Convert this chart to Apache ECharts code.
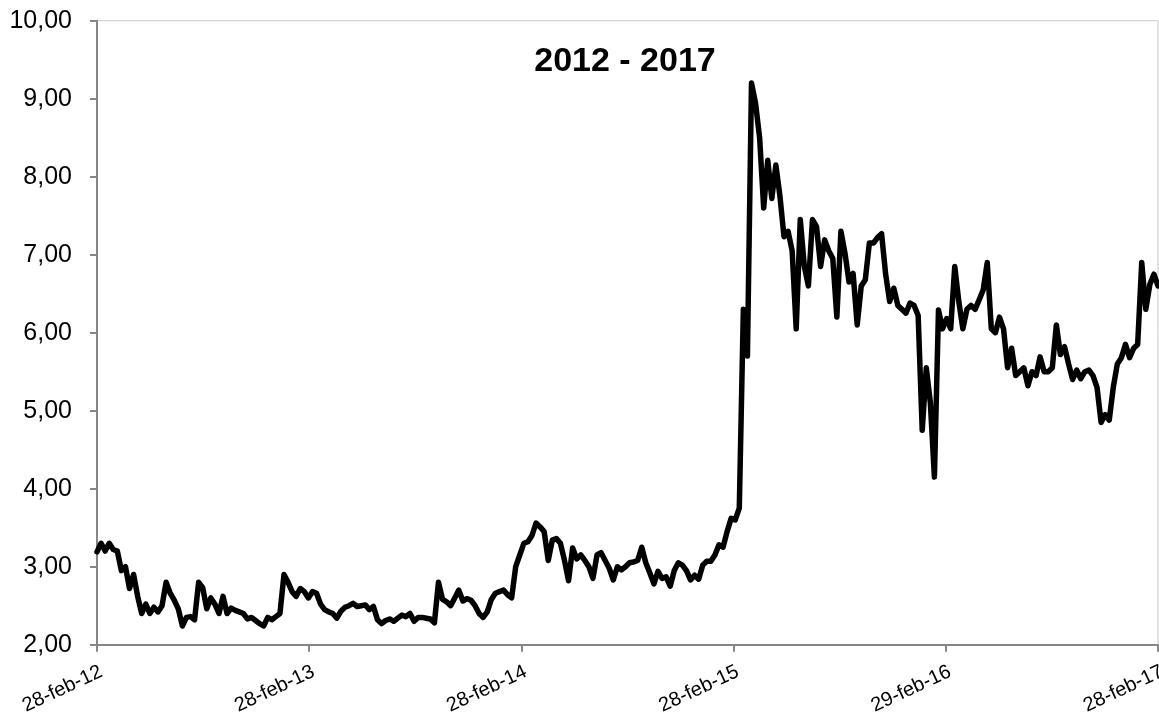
<!DOCTYPE html>
<html>
<head>
<meta charset="utf-8">
<script src="https://cdn.jsdelivr.net/npm/echarts@6/dist/echarts.min.js"></script>
<style>
html,body{margin:0;padding:0;background:#fff;}
#chart{width:1159px;height:713px;}
</style>
</head>
<body>
<div id="chart"></div>
<script>
// Weekly observations starting 28-feb-2012 (one value every 7 days)
const startDate = '2012-02-28';
const stepDays = 7;
const totalDays = 1827; // 28-feb-12 .. 28-feb-17
const titleText = '2012 - 2017';
const xTickLabels = ['28-feb-12', '28-feb-13', '28-feb-14', '28-feb-15', '29-feb-16', '28-feb-17'];
const yMin = 2, yMax = 10, yStep = 1;

const values2012 = [3.19,3.30,3.20,3.30,3.22,3.20,2.95,3.00,2.72,2.90,2.62,2.40,2.52,2.40,2.48,2.42,2.50,2.80,2.66,2.57,2.46,2.24,2.35,2.36,2.32,2.80,2.73,2.46,2.60,2.52,2.40,2.62,2.40,2.47,2.44,2.42,2.40,2.33,2.35,2.31,2.27,2.24,2.35,2.32,2.36,2.40,2.90,2.80,2.68,2.62,2.72,2.68,2.60];
const values2013 = [2.68,2.66,2.52,2.45,2.42,2.40,2.34,2.43,2.48,2.50,2.53,2.49,2.50,2.51,2.45,2.49,2.32,2.27,2.31,2.33,2.30,2.34,2.38,2.36,2.40,2.30,2.35,2.35,2.34,2.33,2.28,2.80,2.58,2.55,2.50,2.60,2.70,2.56,2.59,2.57,2.50,2.40,2.35,2.42,2.58,2.66,2.68,2.70,2.64,2.60,3.00,3.15];
const values2014 = [3.30,3.32,3.40,3.56,3.51,3.45,3.08,3.34,3.36,3.30,3.08,2.82,3.24,3.10,3.15,3.08,3.00,2.85,3.15,3.18,3.08,2.98,2.83,3.00,2.96,3.00,3.05,3.06,3.08,3.25,3.05,2.92,2.78,2.94,2.85,2.87,2.75,2.95,3.05,3.02,2.95,2.83,2.89,2.84,3.02,3.07,3.07,3.15,3.28,3.25,3.45,3.62];
const values2015 = [3.60,3.75,6.30,5.70,9.20,8.94,8.50,7.60,8.21,7.72,8.15,7.75,7.23,7.30,7.05,6.05,7.45,6.85,6.60,7.45,7.36,6.85,7.19,7.05,6.95,6.20,7.30,7.02,6.65,6.76,6.10,6.60,6.68,7.15,7.15,7.22,7.27,6.75,6.40,6.57,6.35,6.30,6.25,6.38,6.35,6.22,4.75,5.55,5.10,4.15,6.29,6.05];
const values2016 = [6.18,6.05,6.85,6.40,6.05,6.30,6.35,6.30,6.42,6.55,6.90,6.05,6.00,6.20,6.05,5.55,5.80,5.45,5.50,5.55,5.32,5.50,5.45,5.69,5.50,5.50,5.55,6.10,5.72,5.82,5.60,5.40,5.52,5.41,5.50,5.52,5.45,5.30,4.85,4.95,4.88,5.30,5.60,5.68,5.85,5.68,5.80,5.85,6.90,6.30,6.62,6.75,6.60];

const values = [].concat(values2012, values2013, values2014, values2015, values2016);
const seriesData = values.map((v, i) => [i * stepDays, v]);
const xInterval = totalDays / (xTickLabels.length - 1);

const chart = echarts.init(document.getElementById('chart'));
chart.setOption({
  animation: false,
  backgroundColor: '#ffffff',
  title: {
    text: titleText,
    left: 620,
    top: 40,
    textAlign: 'center',
    textStyle: { fontFamily: 'Liberation Sans', fontWeight: 'bold', fontSize: 34, color: '#000' }
  },
  grid: {
    left: 97, right: 1, top: 20.7, bottom: 68.3,
    containLabel: false,
    outerBoundsMode: 'none',
    show: true, borderColor: '#c8c8c8', borderWidth: 1
  },
  xAxis: {
    type: 'value',
    min: 0,
    max: totalDays,
    interval: xInterval,
    axisLine: { lineStyle: { color: '#868686', width: 2 } },
    axisTick: { show: true, length: 7, lineStyle: { color: '#868686', width: 2 } },
    splitLine: { show: false },
    axisLabel: {
      rotate: 25,
      align: 'right',
      verticalAlign: 'top',
      margin: 17,
      fontFamily: 'Liberation Sans',
      fontSize: 20,
      color: '#000',
      showMinLabel: true,
      showMaxLabel: true,
      hideOverlap: false,
      formatter: function (v) {
        const idx = Math.round(v / xInterval);
        return xTickLabels[idx] || '';
      }
    }
  },
  yAxis: {
    type: 'value',
    min: yMin,
    max: yMax,
    interval: yStep,
    axisLine: { show: true, lineStyle: { color: '#868686', width: 2 } },
    axisTick: { show: true, length: 7, lineStyle: { color: '#868686', width: 2 } },
    splitLine: { show: false },
    axisLabel: {
      margin: 25,
      fontFamily: 'Liberation Sans',
      fontSize: 25,
      color: '#000',
      formatter: function (v) { return v.toFixed(2).replace('.', ','); }
    }
  },
  series: [{
    type: 'line',
    data: seriesData,
    showSymbol: false,
    symbol: 'none',
    lineStyle: { color: '#000', width: 5.5, join: 'round', cap: 'round' },
    clip: false
  }]
});
</script>
</body>
</html>
